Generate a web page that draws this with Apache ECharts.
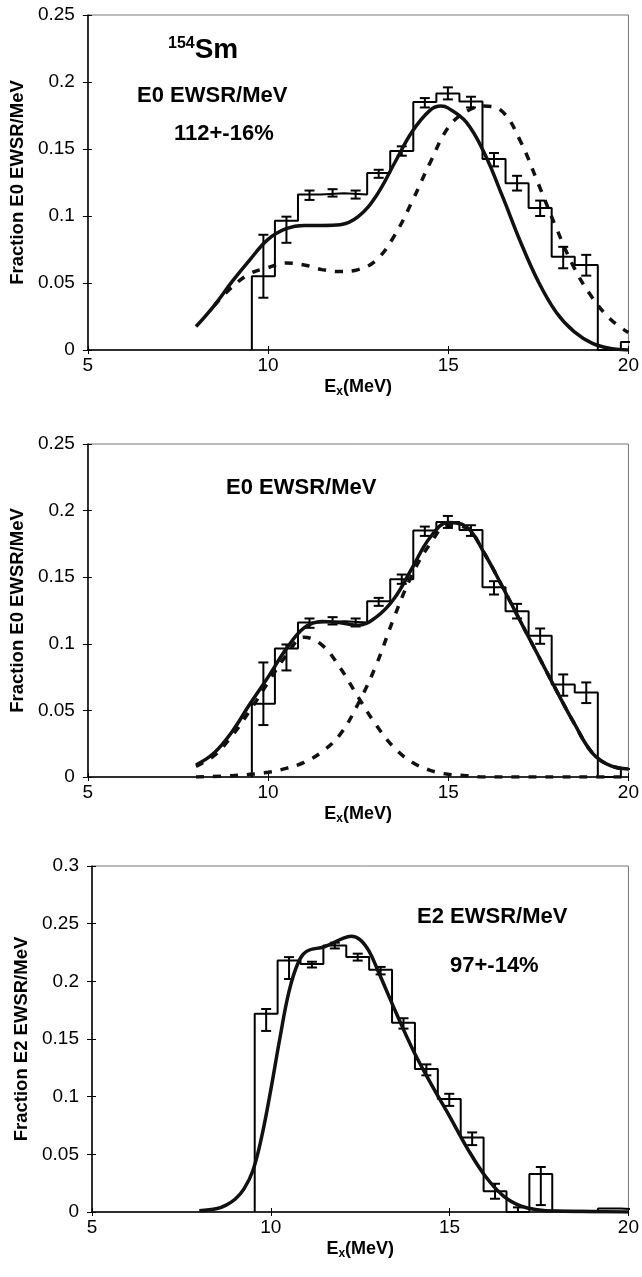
<!DOCTYPE html>
<html><head><meta charset="utf-8">
<script src="https://cdn.jsdelivr.net/npm/echarts@6/dist/echarts.min.js"></script>
<style>html,body{margin:0;padding:0;background:#fff}#c{width:642px;height:1277px}</style>
</head><body><div id="c"></div>
<script>
// ---------- data ----------
const xTickValues = [5, 10, 15, 20];
const binCenters = [9.87,10.51,11.15,11.79,12.43,13.07,13.71,14.35,14.99,15.63,16.27,16.91,17.55,18.19,18.83,19.47,20.11];

const e0Values  = [0.055,0.0965,0.116,0.117,0.116,0.132,0.1485,0.185,0.1915,0.1855,0.1425,0.1245,0.106,0.0695,0.0635,0,0.006];
const e0ErrLow  = [0.039,0.080,0.112,0.1145,0.113,0.1285,0.145,0.181,0.187,0.181,0.137,0.119,0.100,0.061,0.0555];
const e0ErrHigh = [0.086,0.0995,0.119,0.120,0.119,0.1345,0.152,0.188,0.196,0.189,0.147,0.130,0.1115,0.077,0.071];

const e2Values  = [0.172,0.218,0.215,0.231,0.221,0.210,0.164,0.124,0.098,0.0645,0.018,0,0.033,0.001,0.001,0.003,0.002];
const e2ErrLow  = [0.157,0.202,0.212,0.2285,0.218,0.206,0.159,0.1185,0.092,0.058,0.0115,0.0,0.006];
const e2ErrHigh = [0.176,0.221,0.217,0.2335,0.224,0.2125,0.168,0.128,0.1025,0.069,0.0245,0.004,0.039];

// panel 1 curves
const p1SolidX = [8,8.5,9,9.5,10,10.5,11,11.5,12,12.5,13,13.5,14,14.5,14.8,15,15.5,16,16.5,17,17.5,18,18.5,19,19.5,20];
const p1SolidY = [0.0175,0.033,0.051,0.0675,0.0825,0.0905,0.093,0.093,0.0935,0.0995,0.115,0.139,0.163,0.179,0.182,0.1805,0.170,0.147,0.115,0.081,0.051,0.028,0.0135,0.005,0.0012,0];
const p1DashX = [8.5,9,9.5,10,10.5,11,11.5,12,12.5,13,13.5,14,14.5,15,15.5,16,16.5,17,17.5,18,18.5,19,19.5,20];
const p1DashY = [0.033,0.047,0.057,0.0615,0.065,0.0635,0.060,0.0585,0.060,0.067,0.085,0.111,0.140,0.166,0.178,0.182,0.178,0.156,0.124,0.091,0.061,0.039,0.023,0.013];

// panel 2 curves
const p2SolidX = [8,8.5,9,9.5,10,10.5,11,11.5,12,12.5,13,13.5,14,14.5,15,15.5,16,16.5,17,17.5,18,18.5,19,19.5,20];
const p2SolidY = [0.009,0.018,0.034,0.055,0.075,0.096,0.112,0.1168,0.1158,0.114,0.120,0.134,0.157,0.180,0.191,0.188,0.168,0.143,0.117,0.091,0.065,0.040,0.018,0.0085,0.006];
const p2LowX = [8,8.5,9,9.5,10,10.5,11,11.5,12,12.5,13,13.5,14,14.5,15,15.5,16,17,18,19,20];
const p2LowY = [0.008,0.016,0.031,0.050,0.071,0.091,0.105,0.099,0.082,0.060,0.039,0.022,0.011,0.005,0.002,0.001,0,0,0,0,0];
const p2HighX = [8,9,9.5,10,10.5,11,11.5,12,12.5,13,13.5,14,14.5,15,15.5,16,16.5,17,17.5,18,18.5,19,19.5,20];
const p2HighY = [0,0.001,0.002,0.0035,0.0065,0.011,0.019,0.032,0.055,0.084,0.120,0.152,0.175,0.189,0.187,0.168,0.143,0.117,0.091,0.065,0.040,0.018,0.0085,0.006];

// panel 3 curve
const p3SolidX = [8,8.5,8.75,9,9.25,9.5,9.75,10,10.25,10.5,10.75,11,11.5,12,12.25,12.5,12.75,13,13.5,14,14.5,15,15.5,16,16.5,17,17.5,18,19,20];
const p3SolidY = [0.001,0.003,0.006,0.011,0.020,0.036,0.066,0.106,0.150,0.190,0.215,0.226,0.230,0.237,0.239,0.236,0.226,0.209,0.173,0.139,0.110,0.083,0.055,0.031,0.014,0.005,0.0018,0.0008,0.0003,0];

// ---------- helpers ----------
function histPoints(centers, vals) {
  const half = (centers[1] - centers[0]) / 2;
  const pts = [[centers[0] - half, 0]];
  for (let i = 0; i < centers.length; i++) {
    pts.push([centers[i] - half, vals[i]]);
    pts.push([centers[i] + half, vals[i]]);
  }
  pts.push([centers[centers.length - 1] + half, 0]);
  return pts;
}
function zipXY(xs, ys) { return xs.map((x, i) => [x, ys[i]]); }
function errData(lo, hi) { return lo.map((l, i) => [binCenters[i], l, hi[i]]); }

const FONT = '"Liberation Sans", Arial, sans-serif';
const grids = [
  {left: 86, top: 15, width: 543, height: 335},
  {left: 87, top: 444, width: 542, height: 333},
  {left: 92, top: 866, width: 541, height: 346}
];
const yMax = [0.25, 0.25, 0.3];
const yNames = ['Fraction E0 EWSR/MeV', 'Fraction E0 EWSR/MeV', 'Fraction E2 EWSR/MeV'];

const xAxes = [], yAxes = [];
for (let g = 0; g < 3; g++) {
  xAxes.push({
    type: 'value', gridIndex: g, min: xTickValues[0], max: xTickValues[xTickValues.length - 1], interval: 5,
    axisLine: {show: true, lineStyle: {color: '#000', width: 1.5}},
    axisTick: {show: true, length: 4, lineStyle: {color: '#000', width: 1}},
    axisLabel: {color: '#000', fontSize: 19, fontFamily: FONT, margin: 6},
    splitLine: {show: false},
    name: '{a|E}{b|x}{a|(MeV)}', nameLocation: 'middle', nameGap: 26,
    nameTextStyle: {rich: {
      a: {fontSize: 18, fontWeight: 'bold', fontFamily: FONT, color: '#000', lineHeight: 22},
      b: {fontSize: 12, fontWeight: 'bold', fontFamily: FONT, color: '#000', lineHeight: 22, padding: [9, 0, 0, 0]}
    }}
  });
  yAxes.push({
    type: 'value', gridIndex: g, min: 0, max: yMax[g], interval: 0.05,
    axisLine: {show: true, lineStyle: {color: '#000', width: 1.5}},
    axisTick: {show: true, length: 5, lineStyle: {color: '#000', width: 1}},
    axisLabel: {color: '#000', fontSize: 19, fontFamily: FONT, margin: 13},
    splitLine: {show: false},
    name: yNames[g], nameLocation: 'middle', nameGap: 57, nameRotate: 90,
    nameTextStyle: {fontSize: 18.5, fontWeight: 'bold', fontFamily: FONT, color: '#000'}
  });
}
// inner tick duplicates
for (let g = 0; g < 3; g++) {
  xAxes.push({
    type: 'value', gridIndex: g, min: xTickValues[0], max: xTickValues[xTickValues.length - 1], interval: 5, position: 'bottom',
    axisLine: {show: false}, axisLabel: {show: false}, splitLine: {show: false},
    axisTick: {show: true, inside: true, length: 4, lineStyle: {color: '#000', width: 1}}
  });
  yAxes.push({
    type: 'value', gridIndex: g, min: 0, max: yMax[g], interval: 0.05, position: 'left',
    axisLine: {show: false}, axisLabel: {show: false}, splitLine: {show: false},
    axisTick: {show: true, inside: true, length: 4, lineStyle: {color: '#000', width: 1}}
  });
}

function errSeries(g, lo, hi) {
  return {
    type: 'custom', xAxisIndex: g, yAxisIndex: g, z: 5,
    data: errData(lo, hi),
    encode: {x: 0, y: [1, 2]},
    renderItem: function (params, api) {
      const x = api.value(0), l = api.value(1), h = api.value(2);
      const p1 = api.coord([x, l]), p2 = api.coord([x, h]);
      const w = 5, st = {stroke: '#000', lineWidth: 2};
      return {type: 'group', children: [
        {type: 'line', shape: {x1: p1[0], y1: p1[1], x2: p2[0], y2: p2[1]}, style: st},
        {type: 'line', shape: {x1: p1[0] - w, y1: p1[1], x2: p1[0] + w, y2: p1[1]}, style: st},
        {type: 'line', shape: {x1: p2[0] - w, y1: p2[1], x2: p2[0] + w, y2: p2[1]}, style: st}
      ]};
    }
  };
}
function histSeries(g, vals) {
  return {type: 'line', xAxisIndex: g, yAxisIndex: g, data: histPoints(binCenters, vals), showSymbol: false,
    symbol: 'none', clip: true, z: 3, lineStyle: {color: '#000', width: 2}, animation: false};
}
function curve(g, xs, ys, dashed) {
  return {type: 'line', xAxisIndex: g, yAxisIndex: g, data: zipXY(xs, ys), smooth: 0.4,
    symbol: 'none', clip: true, z: dashed ? 4 : 6,
    lineStyle: {color: '#111', width: 3.5, type: dashed ? [8, 9] : 'solid', cap: 'butt'}, animation: false};
}

const series = [
  histSeries(0, e0Values), errSeries(0, e0ErrLow, e0ErrHigh),
  curve(0, p1DashX, p1DashY, true), curve(0, p1SolidX, p1SolidY, false),
  histSeries(1, e0Values), errSeries(1, e0ErrLow, e0ErrHigh),
  curve(1, p2LowX, p2LowY, true), curve(1, p2HighX, p2HighY, true), curve(1, p2SolidX, p2SolidY, false),
  histSeries(2, e2Values), errSeries(2, e2ErrLow, e2ErrHigh),
  curve(2, p3SolidX, p3SolidY, false)
];

const boldText = (x, y, text, size) => ({type: 'text', left: x, top: y, z: 20,
  style: {text: text, font: 'bold ' + size + 'px ' + FONT, fill: '#000'}});

const option = {
  backgroundColor: '#fff',
  animation: false,
  grid: grids.map(g => Object.assign({show: true, borderColor: '#777', borderWidth: 1, backgroundColor: 'transparent'}, g)),
  xAxis: xAxes,
  yAxis: yAxes,
  series: series,
  graphic: [
    {type: 'text', left: 168, top: 36, z: 20, style: {
      text: '{s|154}{m|Sm}',
      rich: {
        s: {font: 'bold 16px ' + FONT, fill: '#000', padding: [0, 0, 13, 0]},
        m: {font: 'bold 28px ' + FONT, fill: '#000'}
      }}},
    boldText(137, 85, 'E0 EWSR/MeV', 22),
    boldText(174, 123, '112+-16%', 22),
    boldText(226, 477, 'E0 EWSR/MeV', 22),
    boldText(417, 906, 'E2 EWSR/MeV', 22),
    boldText(450, 955, '97+-14%', 22)
  ]
};
const chart = echarts.init(document.getElementById('c'), null, {renderer: 'canvas'});
chart.setOption(option);
</script></body></html>
